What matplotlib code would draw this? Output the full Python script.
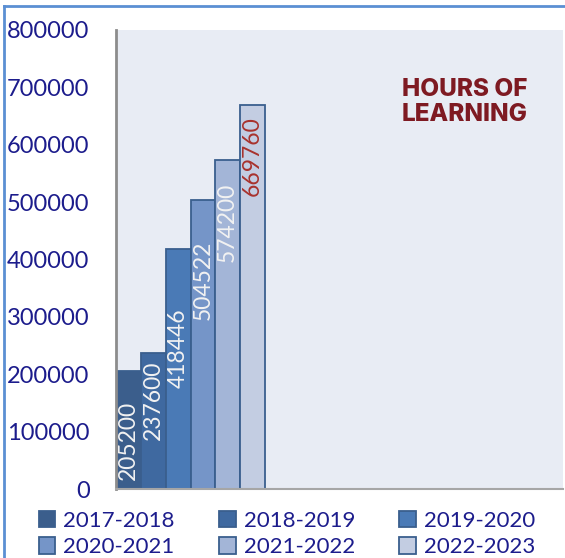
import matplotlib.pyplot as plt
from matplotlib.lines import Line2D

years = ['2017-2018', '2018-2019', '2019-2020', '2020-2021', '2021-2022', '2022-2023']
hours = [205200, 237600, 418446, 504522, 574200, 669760]
colors = ['#3B5E8C', '#3F69A0', '#4A7AB6', '#7595C8', '#A3B5D7', '#C3CDE2']
label_colors = ['#F2F2F2'] * 5 + ['#A8322D']
# where the rotated value labels sit (centre, in data units)
label_mid = [85000, 155000, 246000, 363000, 464000, 580000]

plt.rcParams['font.family'] = ['Lato', 'DejaVu Sans']

fig = plt.figure(figsize=(5.65, 5.58), dpi=100)
ax = fig.add_axes([116 / 565, 1 - 489 / 558, 447 / 565, 459 / 558])
ax.set_facecolor('#E8ECF4')

bars = []
for i, (yr, h) in enumerate(zip(years, hours)):
    b = ax.bar(i, h, width=1, align='edge', color=colors[i],
               edgecolor='#3A5F8E', linewidth=1.3, label=yr)
    bars.append(b)
    ax.text(i + 0.5, label_mid[i], str(h), rotation=90, ha='center', va='center',
            color=label_colors[i], fontsize=16.5)

ax.set_xlim(0, 18)
ax.set_ylim(0, 800000)
ax.set_yticks(range(0, 800001, 100000))
ax.set_yticklabels([str(v) for v in range(0, 800001, 100000)])
ax.tick_params(axis='y', length=0, pad=19, labelsize=17, labelcolor='#1C1C8C')
ax.set_xticks([])
for s in ['top', 'right']:
    ax.spines[s].set_visible(False)
ax.spines['left'].set_color('#8C8C8C')
ax.spines['left'].set_linewidth(2)
ax.spines['bottom'].set_color('#A6A6A6')
ax.spines['bottom'].set_linewidth(1.5)

fig.text(465 / 565, 1 - 102 / 558, 'HOURS OF\nLEARNING', ha='center', va='center',
         family=['Inter', 'DejaVu Sans'], fontweight='heavy', fontsize=17.5,
         color='#7E1A22', linespacing=1.15)

# outer chart border (left and top)
fig.add_artist(Line2D([4 / 565, 4 / 565], [0, 1 - 6 / 558], color='#5B8FD3', lw=2))
fig.add_artist(Line2D([4 / 565, 1], [1 - 6 / 558, 1 - 6 / 558], color='#5B8FD3', lw=2))

order = [0, 3, 1, 4, 2, 5]
handles = [bars[i] for i in order]
labels = [years[i] for i in order]
fig.legend(handles, labels, ncol=3, loc='center', bbox_to_anchor=(287 / 565, 1 - 534 / 558),
           frameon=False, fontsize=16, labelcolor='#1C1C8C', handlelength=0.75,
           handleheight=0.75, handletextpad=0.35, columnspacing=2.0, labelspacing=0.3,
           borderpad=0)

fig.savefig('out.png', dpi=100)
